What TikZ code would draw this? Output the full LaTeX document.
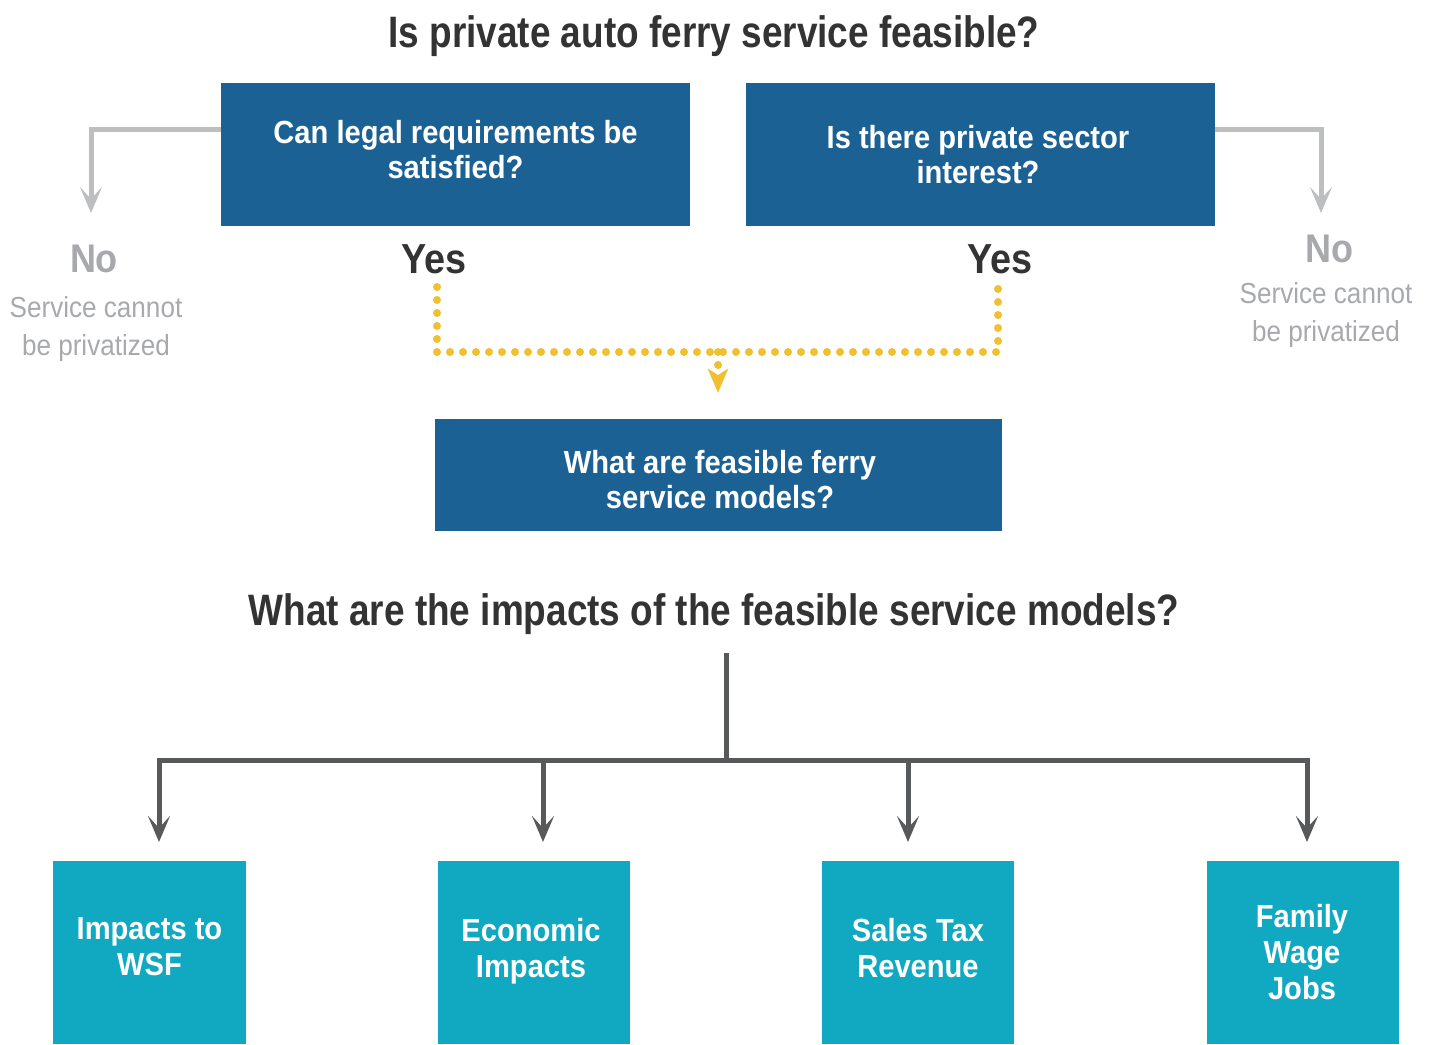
\documentclass[tikz,border=0pt]{standalone}
\usepackage{fontspec}
\setmainfont{Liberation Sans}[FakeStretch=0.84]
\newfontfamily\wfont{Liberation Sans}[FakeStretch=0.9]
\newfontfamily\qfont{Liberation Sans}[FakeStretch=0.91]
\usetikzlibrary{arrows.meta}
\definecolor{dblue}{HTML}{1B6193}
\definecolor{teal}{HTML}{10A9C1}
\definecolor{lgray}{HTML}{BCBEC0}
\definecolor{tgray}{HTML}{A7A9AC}
\definecolor{dgray}{HTML}{58595B}
\definecolor{ink}{HTML}{333333}
\definecolor{gold}{HTML}{F0C030}
\tikzset{
  qbox/.style={fill=dblue, inner sep=0pt},
  qtxt/.style={text=white, align=center, font=\qfont\bfseries\fontsize{32}{35}\selectfont, inner sep=0pt},
  tbox/.style={fill=teal, inner sep=0pt, minimum height=183pt},
  ttxt/.style={text=white, align=center, font=\qfont\bfseries\fontsize{32}{36}\selectfont, inner sep=0pt},
  title/.style={text=ink, font=\bfseries\fontsize{44}{50}\selectfont, inner sep=0pt},
  yes/.style={text=ink, font=\wfont\bfseries\fontsize{42}{44}\selectfont, inner sep=0pt},
  notxt/.style={text=tgray, font=\wfont\bfseries\fontsize{40}{44}\selectfont, inner sep=0pt},
  subtxt/.style={text=tgray, align=center, font=\wfont\fontsize{29}{38}\selectfont, inner sep=0pt},
  tip/.style={-{Stealth[length=26pt,width=22pt,inset=12pt]}},
  grayarrow/.style={draw=lgray, line width=5pt, tip},
  darkarrow/.style={draw=dgray, line width=5pt, tip},
  darkline/.style={draw=dgray, line width=5pt},
  yline/.style={draw=gold, line width=8pt, line cap=round, dash pattern=on 0pt off 13pt},
}
\begin{document}
\begin{tikzpicture}[x=1pt,y=-1pt]
\useasboundingbox (0,0) rectangle (1432,1044);
% titles
\node[title] (t1) at (714,36) {Is private auto ferry service feasible?};
\node[title] (t2) at (714,614) {What are the impacts of the feasible service models?};
% question boxes
\node[qbox, minimum width=469pt, minimum height=143pt] (A) at (455.5,154.5) {};
\node[qtxt] (At) at (455.5,149.5) {Can legal requirements be\\satisfied?};
\node[qbox, minimum width=469pt, minimum height=143pt] (B) at (980.5,154.5) {};
\node[qtxt] (Bt) at (978,154.5) {Is there private sector\\interest?};
\node[qbox, minimum width=567pt, minimum height=112pt] (C) at (718.5,475) {};
\node[qtxt] (Ct) at (720,479.5) {What are feasible ferry\\service models?};
% yes labels
\node[yes] (y1) at (434,259) {Yes};
\node[yes] (y2) at (1000,259) {Yes};
% no labels
\node[notxt] (n1) at (94,259) {No};
\node[subtxt] (s1) at (96,329) {Service cannot\\be privatized};
\node[notxt] (n2) at (1329,249) {No};
\node[subtxt] (s2) at (1326,315) {Service cannot\\be privatized};
% gray arrows
\coordinate (la) at (91,129);
\coordinate (ra) at (1321,129);
\draw[grayarrow] (A.west |- la) -- (la) -- ++(0,84);
\draw[grayarrow] (B.east |- ra) -- (ra) -- ++(0,84);
% dotted connector
\coordinate (d1) at (437,287);
\coordinate (d2) at (998,287);
\coordinate (j) at (718,352);
\draw[yline] (d1) -- (d1 |- j) -- (d2 |- j) -- (d2);
\draw[yline, -{Stealth[length=24pt,width=20pt,inset=6pt]}] (j) -- ++(0,13) -- ++(0,28);
% impacts tree
\node[tbox, minimum width=193pt] (I1) at (149.5,952.5) {};
\node[ttxt] (I1t) at (149.5,946.5) {Impacts to\\WSF};
\node[tbox, minimum width=192pt] (I2) at (534,952.5) {};
\node[ttxt] (I2t) at (531,951) {Economic\\Impacts};
\node[tbox, minimum width=192pt] (I3) at (918,952.5) {};
\node[ttxt] (I3t) at (918,948) {Sales Tax\\Revenue};
\node[tbox, minimum width=192pt] (I4) at (1303,952.5) {};
\node[ttxt] (I4t) at (1302,952.5) {Family\\Wage\\Jobs};
\coordinate (top) at (726,653);
\coordinate (bar) at (726,760);
\coordinate (b1) at (159,760);
\coordinate (b2) at (543,760);
\coordinate (b3) at (908,760);
\coordinate (b4) at (1307,760);
\draw[darkline] (top) -- (bar);
\draw[darkline, line join=miter] (b1) ++(0,2.5) -- (b1) -- (b4) -- ++(0,2.5);
\draw[darkarrow] (b1) -- ++(0,82);
\draw[darkarrow] (b2) -- ++(0,82);
\draw[darkarrow] (b3) -- ++(0,82);
\draw[darkarrow] (b4) -- ++(0,82);
\end{tikzpicture}
\end{document}
